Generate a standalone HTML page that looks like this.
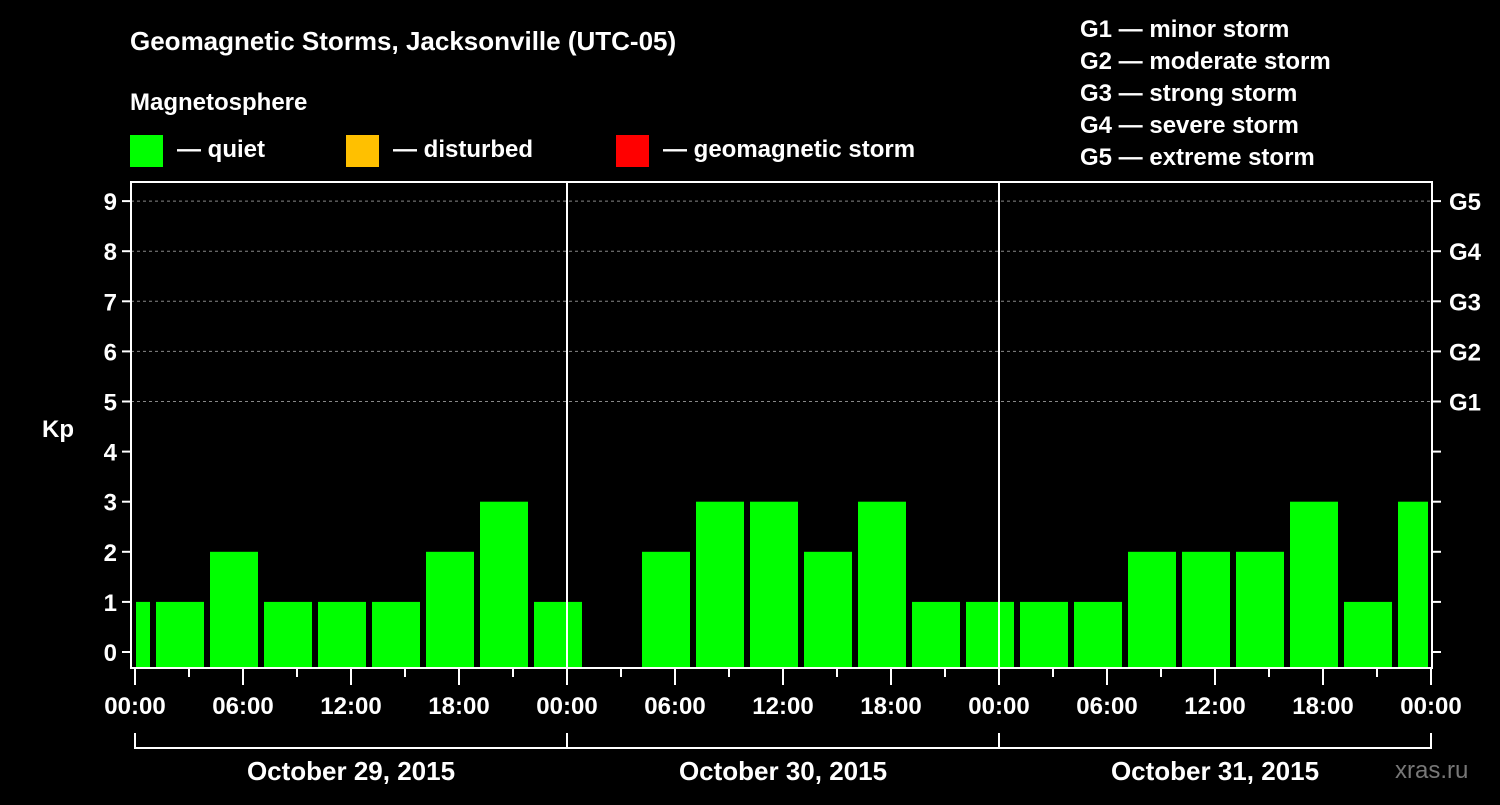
<!DOCTYPE html>
<html><head><meta charset="utf-8"><style>
body{margin:0;background:#000;width:1500px;height:800px;overflow:hidden;font-family:"Liberation Sans",sans-serif}
svg text{font-family:"Liberation Sans",sans-serif;font-weight:bold;fill:#fff}
</style></head><body>
<svg id="c" width="1500" height="800">
<text x="130" y="50" font-size="26">Geomagnetic Storms, Jacksonville (UTC-05)</text>
<text x="130" y="110" font-size="24">Magnetosphere</text>
<rect x="130" y="135" width="33" height="32" fill="#00ff00"/>
<text x="177" y="157" font-size="24">— quiet</text>
<rect x="346" y="135" width="33" height="32" fill="#ffc000"/>
<text x="393" y="157" font-size="24">— disturbed</text>
<rect x="616" y="135" width="33" height="32" fill="#ff0000"/>
<text x="663" y="157" font-size="24">— geomagnetic storm</text>
<g font-size="24">
<text x="1080" y="37">G1 — minor storm</text>
<text x="1080" y="69">G2 — moderate storm</text>
<text x="1080" y="101">G3 — strong storm</text>
<text x="1080" y="133">G4 — severe storm</text>
<text x="1080" y="165">G5 — extreme storm</text>
</g>
<text x="42" y="437" font-size="24">Kp</text>
<text x="1395" y="778" font-size="24" fill="#666" style="fill:#777;font-weight:normal">xras.ru</text>
<g id="plot"></g>
</svg>
<script>
const kpValues=[1,1,2,1,1,1,2,3,1,0,2,3,3,2,3,1,1,1,1,2,2,2,3,1,3];
const yTicks=[0,1,2,3,4,5,6,7,8,9];
const gLabels=["G1","G2","G3","G4","G5"];
const dates=["October 29, 2015","October 30, 2015","October 31, 2015"];
const timeLabels=["00:00","06:00","12:00","18:00"];
const NS="http://www.w3.org/2000/svg";
const g=document.getElementById('plot');
const L=131,R=1432,T=182,B=668;
const x=h=>135+18*h;
const y=v=>652-50.1*v;
function mk(t,a){const e=document.createElementNS(NS,t);for(const k in a)e.setAttribute(k,a[k]);g.appendChild(e);return e;}
// grid
for(const v of yTicks){
 if(v>=5){const l=mk('line',{x1:L,x2:R,y1:y(v),y2:y(v),stroke:'#888','stroke-dasharray':'3,3','stroke-width':1});
 
 }
 const t=mk('line',{x1:L-9,x2:L,y1:y(v),y2:y(v),stroke:'#fff','stroke-width':2});
 
 
 const t2=mk('line',{x1:R,x2:R+9,y1:y(v),y2:y(v),stroke:'#fff','stroke-width':2});
 
 
 const tx=mk('text',{x:L-14,y:y(v)+9,'font-size':24,'text-anchor':'end'});tx.textContent=v;
 
 
}
gLabels.forEach((s,i)=>{const tx=mk('text',{x:1449,y:y(5+i)+9,'font-size':24});tx.textContent=s;
 
 });
// bars
kpValues.forEach((v,i)=>{
 const s=-2+3*i;let x0=x(s)+3,x1=x(s+3)-3;
 x0=Math.max(x0,L+5);x1=Math.min(x1,R-4);
 if(v<=0)return;
 const r=mk('rect',{x:x0,y:y(v),width:x1-x0,height:B-y(v),fill:v>=5?'#ff0000':(v>=4?'#ffc000':'#00ff00')});
 
 
});
// day separators
for(let d=1;d<3;d++){const l=mk('line',{x1:x(24*d),x2:x(24*d),y1:T,y2:B,stroke:'#fff','stroke-width':2});
 
 }
// frame
const f=mk('rect',{x:L,y:T,width:R-L,height:B-T,fill:'none',stroke:'#fff','stroke-width':2});


// x ticks
for(let h=0;h<=72;h+=3){
 const major=h%6===0;
 const l=mk('line',{x1:x(h),x2:x(h),y1:B,y2:B+(major?17:9),stroke:'#fff','stroke-width':2});
 
 
 if(h%24===0||h%6===0&&false){}
}
for(let h=0;h<=72;h+=6){
 const tx=mk('text',{x:x(h),y:714,'font-size':24,'text-anchor':'middle'});
 tx.textContent=timeLabels[(h%24)/6];
 
 
}
// date brackets
const br=mk('path',{d:`M${x(0)} 733V748H${x(72)}V733M${x(24)} 733V748M${x(48)} 733V748`,fill:'none',stroke:'#fff','stroke-width':2});


dates.forEach((d,i)=>{const tx=mk('text',{x:x(24*i+12),y:780,'font-size':26,'text-anchor':'middle'});tx.textContent=d;
 
 });
</script>
</body></html>
